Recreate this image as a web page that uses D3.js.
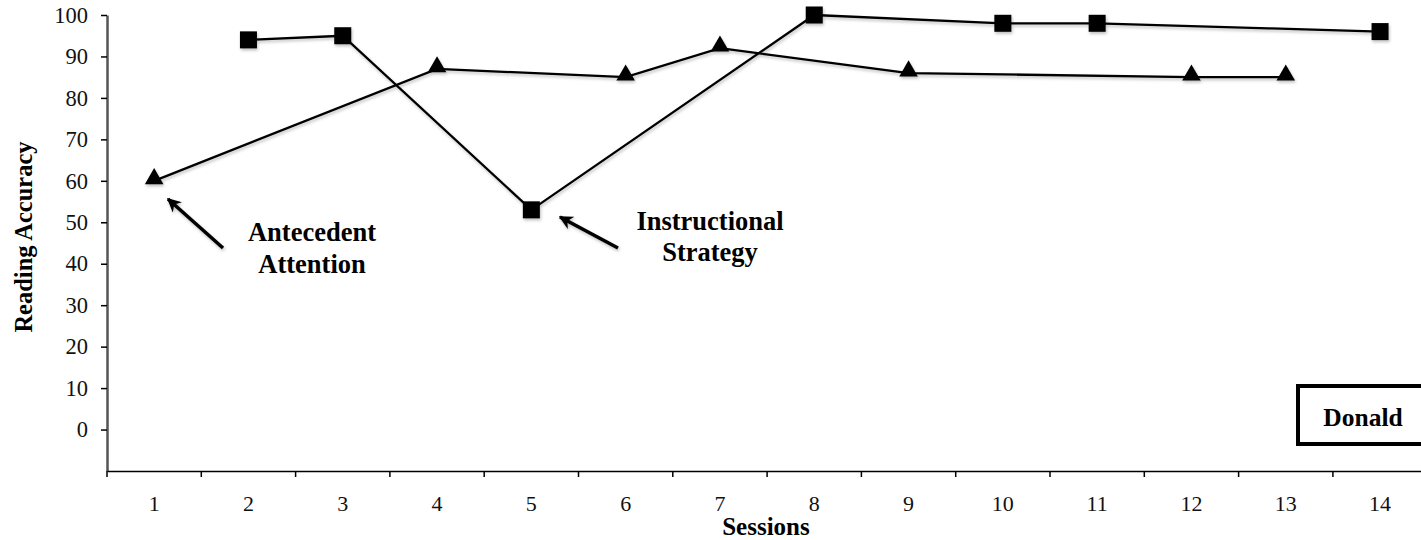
<!DOCTYPE html>
<html>
<head>
<meta charset="utf-8">
<script src="https://cdn.jsdelivr.net/npm/d3@7"></script>
<style>
  body { margin: 0; background: #fff; }
  text { font-family: "Liberation Serif", "DejaVu Serif", serif; }
</style>
</head>
<body>
<div class="box"></div>
<script>
// data
const sessions = [1, 2, 3, 4, 5, 6, 7, 8, 9, 10, 11, 12, 13, 14];
const yTicks = [0, 10, 20, 30, 40, 50, 60, 70, 80, 90, 100];
const strategySessions = [2, 3, 5, 8, 10, 11, 14];
const strategyValues = [94, 95, 53, 100, 98, 98, 96];
const attentionSessions = [1, 4, 6, 7, 9, 12, 13];
const attentionValues = [60, 87, 85, 92, 86, 85, 85];

const svg = d3.select('.box')
              .append('svg')
              .attr('width', 1421)
              .attr('height', 540);

const defs = svg.append('defs');
const shadow = defs.append('filter').attr('id', 'shadow')
                   .attr('x', '-10%').attr('y', '-10%').attr('width', '120%').attr('height', '140%');
shadow.append('feDropShadow').attr('dx', 1).attr('dy', 2).attr('stdDeviation', 1.5)
      .attr('flood-color', '#000').attr('flood-opacity', 0.25);
defs.append('marker').attr('id', 'head')
    .attr('viewBox', '0 0 10 10').attr('refX', 9).attr('refY', 5)
    .attr('markerWidth', 4).attr('markerHeight', 4).attr('orient', 'auto')
    .append('path').attr('d', 'M0,0 L10,5 L0,10 L3,5 Z').attr('fill', '#000');

// Dimensions
const axisLeftX = 107, plotTop = 15, plotBottom = 471;
const step = 94.3;

const x = d3.scaleBand()
            .domain(sessions)
            .range([axisLeftX, axisLeftX + step * sessions.length]);

const y = d3.scaleLinear()
            .domain([-10, 100])
            .range([plotBottom, plotTop]);

// Axes
const axeY = d3.axisLeft(y)
               .tickValues(yTicks)
               .tickSize(6)
               .tickSizeOuter(0)
               .tickPadding(13);

const groupeY = svg.append('g')
                   .attr('transform', `translate(${axisLeftX}, 0)`)
                   .call(axeY);
groupeY.select('.domain').attr('stroke', '#555').attr('stroke-width', 2.5);
groupeY.selectAll('.tick line').attr('stroke', '#000').attr('stroke-width', 1.5);
groupeY.selectAll('text').attr('font-size', 22.5).attr('fill', '#111')
       .style('font-family', '"Liberation Serif", serif');

const axeX = d3.axisBottom(x)
               .tickSize(0)
               .tickSizeOuter(0)
               .tickPadding(24);

const groupeX = svg.append('g')
                   .attr('transform', `translate(0, ${plotBottom})`)
                   .call(axeX);
groupeX.select('.domain').attr('stroke', '#000').attr('stroke-width', 1.5);
groupeX.selectAll('text').attr('font-size', 22).attr('fill', '#111')
       .style('font-family', '"Liberation Serif", serif');

// tick marks sit between the sessions
groupeX.selectAll('.bound')
       .data(sessions)
       .enter()
       .append('line')
       .attr('x1', d => x(d))
       .attr('x2', d => x(d))
       .attr('y1', 0)
       .attr('y2', 6)
       .attr('stroke', '#000')
       .attr('stroke-width', 1.5);

// axis titles
svg.append('text')
   .attr('x', 766)
   .attr('y', 535)
   .attr('text-anchor', 'middle')
   .attr('font-size', 25)
   .attr('font-weight', 'bold')
   .text('Sessions');

svg.append('text')
   .attr('transform', 'translate(32, 237) rotate(-90)')
   .attr('text-anchor', 'middle')
   .attr('font-size', 24.5)
   .attr('font-weight', 'bold')
   .text('Reading Accuracy');

// series
const cx = s => x(s) + x.bandwidth() / 2;
const strategy = strategySessions.map((s, i) => ({s: s, v: strategyValues[i]}));
const attention = attentionSessions.map((s, i) => ({s: s, v: attentionValues[i]}));

const line = d3.line()
               .x(d => cx(d.s))
               .y(d => y(d.v));

const plot = svg.append('g').attr('filter', 'url(#shadow)');

plot.append('path')
    .attr('d', line(attention))
    .attr('fill', 'none')
    .attr('stroke', '#000')
    .attr('stroke-width', 2.3);

plot.append('path')
    .attr('d', line(strategy))
    .attr('fill', 'none')
    .attr('stroke', '#000')
    .attr('stroke-width', 2.3);

plot.selectAll('.tri')
    .data(attention)
    .enter()
    .append('path')
    .attr('d', d3.symbol().type(d3.symbolTriangle).size(150))
    .attr('transform', d => `translate(${cx(d.s)}, ${y(d.v) - 2})`)
    .attr('fill', '#000');

plot.selectAll('.sq')
    .data(strategy)
    .enter()
    .append('rect')
    .attr('x', d => cx(d.s) - 8.5)
    .attr('y', d => y(d.v) - 8.5)
    .attr('width', 17)
    .attr('height', 17)
    .attr('fill', '#000');

// annotations
const notes = [
  {lines: ['Antecedent', 'Attention'], tx: 312, ty: [241, 273], from: [223, 248], to: [168, 199]},
  {lines: ['Instructional', 'Strategy'], tx: 710, ty: [230, 261], from: [618, 248], to: [560, 217]}
];

notes.forEach(n => {
  svg.append('line')
     .attr('x1', n.from[0]).attr('y1', n.from[1])
     .attr('x2', n.to[0]).attr('y2', n.to[1])
     .attr('stroke', '#000')
     .attr('stroke-width', 3.5)
     .attr('marker-end', 'url(#head)')
     .attr('filter', 'url(#shadow)');
  n.lines.forEach((l, i) => {
    svg.append('text')
       .attr('x', n.tx).attr('y', n.ty[i])
       .attr('text-anchor', 'middle')
       .attr('font-size', 26.5)
       .attr('font-weight', 'bold')
       .text(l);
  });
});

// name box
svg.append('rect')
   .attr('x', 1298).attr('y', 386)
   .attr('width', 140).attr('height', 58)
   .attr('fill', '#fff')
   .attr('stroke', '#000')
   .attr('stroke-width', 4);

svg.append('text')
   .attr('x', 1363).attr('y', 426)
   .attr('text-anchor', 'middle')
   .attr('font-size', 25.5)
   .attr('font-weight', 'bold')
   .text('Donald');
</script>
</body>
</html>
